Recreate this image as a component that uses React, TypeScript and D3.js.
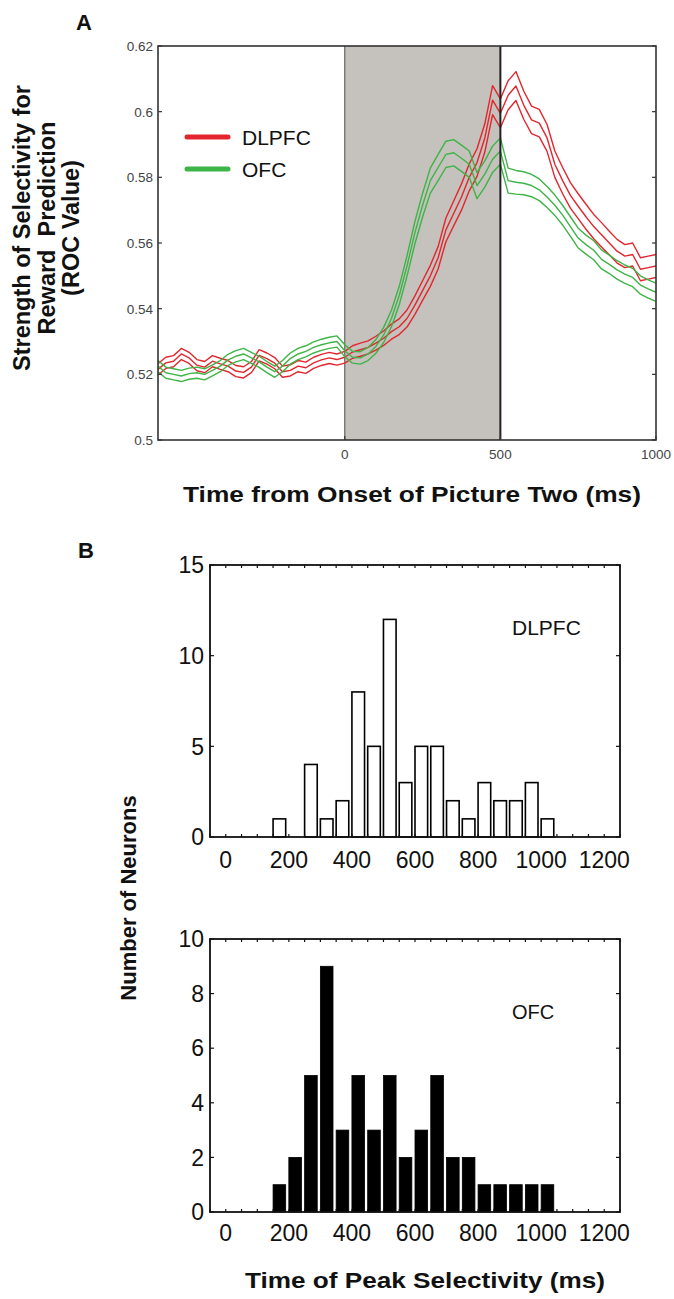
import React from "react";
import * as d3 from "d3";

// ---------- Panel A data ----------
const timesA = [
  -600, -575, -550, -525, -500, -475, -450, -425, -400, -375, -350, -325, -300, -275, -250, -225,
  -200, -175, -150, -125, -100, -75, -50, -25, 0, 25, 50, 75, 100, 125, 150, 175,
  200, 225, 250, 275, 300, 325, 350, 375, 400, 425, 450, 475, 500, 525, 550, 575,
  600, 625, 650, 675, 700, 725, 750, 775, 800, 825, 850, 875, 900, 925, 950, 975, 1000,
];
const dlpfcMean = [
  0.5215, 0.5235, 0.524, 0.5262, 0.525, 0.5228, 0.5222, 0.524, 0.5232, 0.5225, 0.521, 0.5206, 0.5222, 0.5258, 0.5248, 0.5234,
  0.5208, 0.5212, 0.5225, 0.522, 0.5235, 0.5244, 0.525, 0.5245, 0.5252, 0.5268, 0.5275, 0.5282, 0.5295, 0.531, 0.533, 0.5345,
  0.537, 0.541, 0.5455, 0.55, 0.5555, 0.564, 0.569, 0.574, 0.58, 0.5845, 0.592, 0.6035, 0.5995, 0.605, 0.6078, 0.602,
  0.5975, 0.5965, 0.592, 0.584, 0.579, 0.5745, 0.5712, 0.568, 0.565, 0.5625, 0.56, 0.5575, 0.556, 0.5565, 0.552, 0.5525, 0.553,
];
const dlpfcSem = [
  0.0017, 0.0017, 0.0017, 0.0017, 0.0017, 0.0017, 0.0017, 0.0017, 0.0017, 0.0017, 0.0017, 0.0017, 0.0017, 0.0017, 0.0017, 0.0017,
  0.0017, 0.0017, 0.0017, 0.0017, 0.0017, 0.0017, 0.0017, 0.0017, 0.0018, 0.0019, 0.002, 0.002, 0.0021, 0.0022, 0.0023, 0.0024,
  0.0026, 0.0028, 0.003, 0.0032, 0.0034, 0.0036, 0.0038, 0.004, 0.0041, 0.0042, 0.0043, 0.0044, 0.0044, 0.0044, 0.0044, 0.0043,
  0.0042, 0.0042, 0.0041, 0.004, 0.004, 0.0039, 0.0038, 0.0038, 0.0037, 0.0037, 0.0036, 0.0036, 0.0035, 0.0035, 0.0035, 0.0035, 0.0035,
];
const ofcMean = [
  0.5225, 0.5205, 0.52, 0.5195, 0.5202, 0.5205, 0.52, 0.5212, 0.5225, 0.5244, 0.5255, 0.5262, 0.525, 0.5238, 0.5222, 0.5208,
  0.5225, 0.5248, 0.5262, 0.527, 0.5282, 0.529, 0.5296, 0.53, 0.5272, 0.5252, 0.525, 0.5262, 0.5285, 0.532, 0.537, 0.544,
  0.553, 0.563, 0.5715, 0.579, 0.583, 0.587, 0.5875, 0.5858, 0.584, 0.5775, 0.581, 0.5855, 0.588, 0.579, 0.5785, 0.5782,
  0.5775, 0.5762, 0.574, 0.5715, 0.5685, 0.565, 0.5615, 0.5595, 0.5578, 0.555, 0.5535, 0.5518, 0.5505, 0.5495, 0.5472, 0.546, 0.545,
];
const ofcSem = [
  0.0017, 0.0017, 0.0017, 0.0017, 0.0017, 0.0017, 0.0017, 0.0017, 0.0017, 0.0017, 0.0017, 0.0017, 0.0017, 0.0017, 0.0017, 0.0017,
  0.0017, 0.0017, 0.0017, 0.0017, 0.0017, 0.0017, 0.0017, 0.0017, 0.0018, 0.0018, 0.0019, 0.002, 0.0021, 0.0023, 0.0025, 0.0028,
  0.0031, 0.0034, 0.0036, 0.0038, 0.004, 0.004, 0.004, 0.004, 0.004, 0.004, 0.004, 0.004, 0.004, 0.0038, 0.0036, 0.0035,
  0.0034, 0.0033, 0.0032, 0.0031, 0.003, 0.003, 0.003, 0.0029, 0.0029, 0.0029, 0.0028, 0.0028, 0.0028, 0.0028, 0.0028, 0.0028, 0.0028,
];
const yTicksA = [0.5, 0.52, 0.54, 0.56, 0.58, 0.6, 0.62];
const yTickLabelsA = ["0.5", "0.52", "0.54", "0.56", "0.58", "0.6", "0.62"];
const xTicksA = [0, 500, 1000];
const legendA = ["DLPFC", "OFC"];

// ---------- Panel B data ----------
const binStarts = [150, 200, 250, 300, 350, 400, 450, 500, 550, 600, 650, 700, 750, 800, 850, 900, 950, 1000];
const dlpfcCounts = [1, 0, 4, 1, 2, 8, 5, 12, 3, 5, 5, 2, 1, 3, 2, 2, 3, 1];
const ofcCounts = [1, 2, 5, 9, 3, 5, 3, 5, 2, 3, 5, 2, 2, 1, 1, 1, 1, 1];
const xTicksB = [0, 200, 400, 600, 800, 1000, 1200];
const yTicksB1 = [0, 5, 10, 15];
const yTicksB2 = [0, 2, 4, 6, 8, 10];

const FONT = "'Liberation Sans', Arial, Helvetica, sans-serif";
const RED = "#e3262e";
const GREEN = "#3db446";

export default function App() {
  // Panel A scales
  const xA = d3.scaleLinear().domain([-600, 1000]).range([158, 656]);
  const yA = d3.scaleLinear().domain([0.5, 0.62]).range([440, 46]);

  const lineGen = (vals: number[]) =>
    d3
      .line<number>()
      .x((_, i) => xA(timesA[i]))
      .y((v) => yA(v))(vals) || "";

  const series = [
    { mean: dlpfcMean, sem: dlpfcSem, color: RED },
    { mean: ofcMean, sem: ofcSem, color: GREEN },
  ];

  // Panel B scales
  const xB = d3.scaleLinear().domain([-50, 1250]).range([210, 620]);
  const yB1 = d3.scaleLinear().domain([0, 15]).range([837, 565]);
  const yB2 = d3.scaleLinear().domain([0, 10]).range([1212, 939]);
  const minorB = d3.range(-50, 1251, 50);

  const hist = (
    counts: number[],
    y: d3.ScaleLinear<number, number>,
    yTicks: number[],
    filled: boolean,
    label: string,
    labelX: number,
    labelY: number,
    labelSize: number,
    tickLabelY: number
  ) => {
    const [y0, y1] = y.range();
    const left = 210;
    const right = 620;
    return (
      <g>
        {counts.map((c, i) =>
          c > 0 ? (
            <rect
              key={i}
              x={xB(binStarts[i])}
              y={y(c)}
              width={xB(binStarts[i] + 40) - xB(binStarts[i])}
              height={y(0) - y(c)}
              fill={filled ? "#000" : "#fff"}
              stroke="#000"
              strokeWidth={filled ? 0.8 : 1.6}
            />
          ) : null
        )}
        <rect x={left} y={y1} width={right - left} height={y0 - y1} fill="none" stroke="#111" strokeWidth={1.8} />
        {minorB.map((t) => (
          <g key={t}>
            <line x1={xB(t)} x2={xB(t)} y1={y0} y2={y0 - 3} stroke="#111" strokeWidth={1.2} />
            <line x1={xB(t)} x2={xB(t)} y1={y1} y2={y1 + 3} stroke="#111" strokeWidth={1.2} />
          </g>
        ))}
        {yTicks.map((t) => (
          <g key={t}>
            <line x1={left} x2={left + 4} y1={y(t)} y2={y(t)} stroke="#111" strokeWidth={1.2} />
            <line x1={right} x2={right - 4} y1={y(t)} y2={y(t)} stroke="#111" strokeWidth={1.2} />
            <text x={204} y={y(t)} dy="0.36em" textAnchor="end" fontSize={23} fontFamily={FONT} fill="#111">
              {t}
            </text>
          </g>
        ))}
        {xTicksB.map((t) => (
          <text key={t} x={xB(t)} y={tickLabelY} textAnchor="middle" fontSize={23} fontFamily={FONT} fill="#111">
            {t}
          </text>
        ))}
        <text x={labelX} y={labelY} fontSize={labelSize} fontFamily={FONT} fill="#111">
          {label}
        </text>
      </g>
    );
  };

  return (
    <svg
      width={674}
      height={1299}
      style={{ position: "absolute", left: 0, top: 0, background: "#fff" }}
      xmlns="http://www.w3.org/2000/svg"
    >
      <rect x={0} y={0} width={674} height={1299} fill="#fff" />
      {/* Panel labels */}
      <text x={76} y={30} fontSize={22} fontWeight="bold" fontFamily={FONT} fill="#111">
        A
      </text>
      <text x={78} y={558} fontSize={22} fontWeight="bold" fontFamily={FONT} fill="#111">
        B
      </text>

      {/* ===== Panel A ===== */}
      <rect x={xA(0)} y={yA(0.62)} width={xA(500) - xA(0)} height={yA(0.5) - yA(0.62)} fill="#c5c1bd" />
      <line x1={xA(0)} x2={xA(0)} y1={yA(0.5)} y2={yA(0.62)} stroke="#666" strokeWidth={1.2} />
      {series.map((s, k) => (
        <g key={k} fill="none" stroke={s.color} strokeWidth={1.4} strokeLinejoin="round">
          <path d={lineGen(s.mean.map((m, i) => m + s.sem[i]))} />
          <path d={lineGen(s.mean)} />
          <path d={lineGen(s.mean.map((m, i) => m - s.sem[i]))} />
        </g>
      ))}
      <line x1={xA(500)} x2={xA(500)} y1={yA(0.5)} y2={yA(0.62)} stroke="#222" strokeWidth={2} />
      <rect x={158} y={46} width={656 - 158} height={440 - 46} fill="none" stroke="#333" strokeWidth={1.6} />
      {yTicksA.map((t, i) => (
        <g key={t}>
          <line x1={158} x2={162} y1={yA(t)} y2={yA(t)} stroke="#333" strokeWidth={1.2} />
          <line x1={656} x2={652} y1={yA(t)} y2={yA(t)} stroke="#333" strokeWidth={1.2} />
          <text x={153} y={yA(t)} dy="0.36em" textAnchor="end" fontSize={13.5} fontFamily={FONT} fill="#444">
            {yTickLabelsA[i]}
          </text>
        </g>
      ))}
      {xTicksA.map((t) => (
        <g key={t}>
          <line x1={xA(t)} x2={xA(t)} y1={440} y2={436} stroke="#333" strokeWidth={1.2} />
          <text x={xA(t)} y={459} textAnchor="middle" fontSize={13.5} fontFamily={FONT} fill="#444">
            {t}
          </text>
        </g>
      ))}
      {/* Legend */}
      {legendA.map((name, i) => (
        <g key={name}>
          <line
            x1={187}
            x2={228}
            y1={137 + i * 32}
            y2={137 + i * 32}
            stroke={i === 0 ? RED : GREEN}
            strokeWidth={5}
            strokeLinecap="round"
          />
          <text x={242} y={137 + i * 32} dy="0.36em" fontSize={21} fontFamily={FONT} fill="#111">
            {name}
          </text>
        </g>
      ))}
      {/* Axis titles A */}
      <text
        x={183}
        y={502}
        fontSize={22}
        fontWeight="bold"
        fontFamily={FONT}
        fill="#111"
        textLength={458}
        lengthAdjust="spacingAndGlyphs"
      >
        Time from Onset of Picture Two (ms)
      </text>
      <g transform="translate(0,228) rotate(-90)" fontSize={23.5} fontWeight="bold" fontFamily={FONT} fill="#111">
        <text x={0} y={30} textAnchor="middle">
          Strength of Selectivity for
        </text>
        <text x={0} y={55} textAnchor="middle" style={{ whiteSpace: "pre" }}>
          Reward  Prediction
        </text>
        <text x={0} y={79} textAnchor="middle">
          (ROC Value)
        </text>
      </g>

      {/* ===== Panel B ===== */}
      {hist(dlpfcCounts, yB1, yTicksB1, false, "DLPFC", 512, 635, 21, 868)}
      {hist(ofcCounts, yB2, yTicksB2, true, "OFC", 512, 1019, 20, 1241)}
      <text
        transform="translate(136,898) rotate(-90)"
        textAnchor="middle"
        fontSize={22}
        fontWeight="bold"
        fontFamily={FONT}
        fill="#111"
      >
        Number of Neurons
      </text>
      <text
        x={245}
        y={1288}
        fontSize={22}
        fontWeight="bold"
        fontFamily={FONT}
        fill="#111"
        textLength={360}
        lengthAdjust="spacingAndGlyphs"
      >
        Time of Peak Selectivity (ms)
      </text>
    </svg>
  );
}
